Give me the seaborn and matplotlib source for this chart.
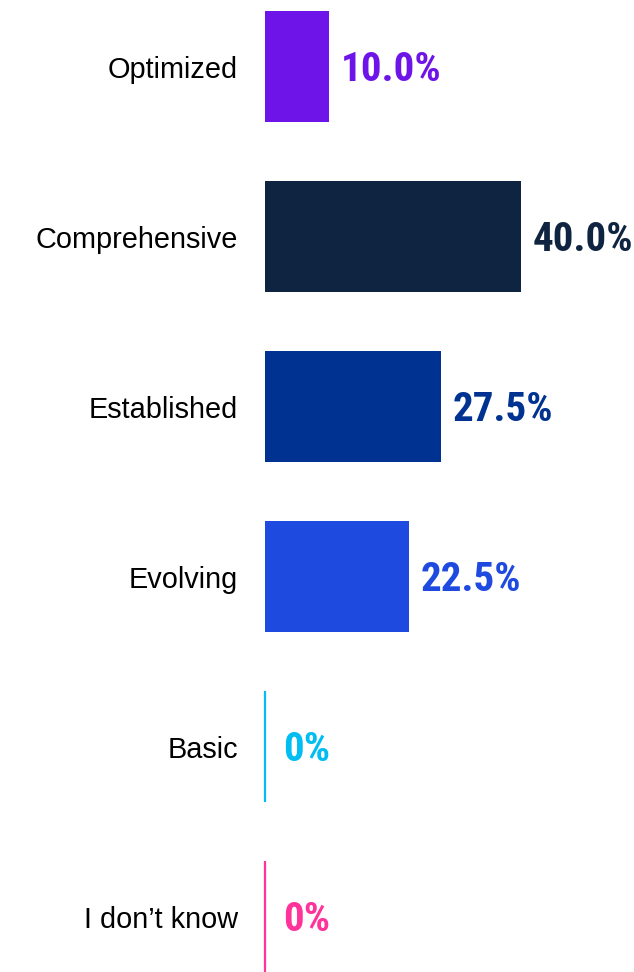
import matplotlib
matplotlib.use("Agg")
import matplotlib.pyplot as plt
import seaborn as sns
import pandas as pd
from matplotlib import font_manager
from matplotlib.font_manager import FontProperties

# Maturity levels and share of respondents (%)
categories = ["Optimized", "Comprehensive", "Established", "Evolving", "Basic", "I don\u2019t know"]
values = [10.0, 40.0, 27.5, 22.5, 0.0, 0.0]
labels = ["10.0%", "40.0%", "27.5%", "22.5%", "0%", "0%"]
colors = ["#6F14E9", "#0E2440", "#003391", "#1F4AE0", "#00BDF2", "#FF3399"]

df = pd.DataFrame({"level": categories, "share": values})

sns.set_theme(style="white")
plt.rcParams["font.family"] = ["Liberation Sans", "DejaVu Sans"]


def narrow_bold_font():
    """Pick a condensed bold face for the value labels, if one is available."""
    files = [f.fname for f in font_manager.fontManager.ttflist]
    prefs = ["RobotoCondensed-Bold", "OpenSans_Condensed-Bold", "OpenSansCondensed-Bold",
             "LiberationSansNarrow-Bold.", "DejaVuSansCondensed-Bold."]
    for key in prefs:
        for fn in files:
            if key.lower() in fn.lower().replace(" ", ""):
                return FontProperties(fname=fn), True
    return FontProperties(family="DejaVu Sans", weight="bold"), False


value_fp, is_narrow = narrow_bold_font()
value_size = 29.5 if is_narrow else 24
value_fp.set_size(value_size)
# half the cap height in pixels, used to centre the digits on each bar
half_cap_px = value_size * 100 / 72 * 0.711 / 2

fig = plt.figure(figsize=(6.34, 9.72), dpi=100)
ax = fig.add_axes([265 / 634, 0.0, 369 / 634, 1.0])

sns.barplot(data=df, x="share", y="level", hue="level", palette=colors,
            order=categories, hue_order=categories, legend=False,
            width=0.653, orient="h", ax=ax, saturation=1, linewidth=0)

# zero-valued bars are shown as a thin vertical stroke at the baseline
for patch, val, col in zip(ax.patches, values, colors):
    if val == 0:
        y0 = patch.get_y()
        ax.vlines(val, y0, y0 + patch.get_height(), colors=col,
                  linewidth=1.6, clip_on=False)

px_per_unit = 6.4
ax.set_xlim(0, 369 / px_per_unit)
ax.set_ylim(5 + (972 - 916.5) / 170, -66.5 / 170)

for i, (val, lab, col) in enumerate(zip(values, labels, colors)):
    ax.annotate(lab, xy=(val, i), xytext=(18 if val == 0 else 12, -half_cap_px),
                textcoords="offset pixels", va="baseline", ha="left",
                fontproperties=value_fp, color=col)

ax.set_xlabel("")
ax.set_ylabel("")
ax.set_xticks([])
ax.tick_params(axis="y", length=0, pad=19.5, labelsize=20.8, labelcolor="black")
for s in ax.spines.values():
    s.set_visible(False)

fig.savefig("out.png", dpi=100, facecolor="white")
